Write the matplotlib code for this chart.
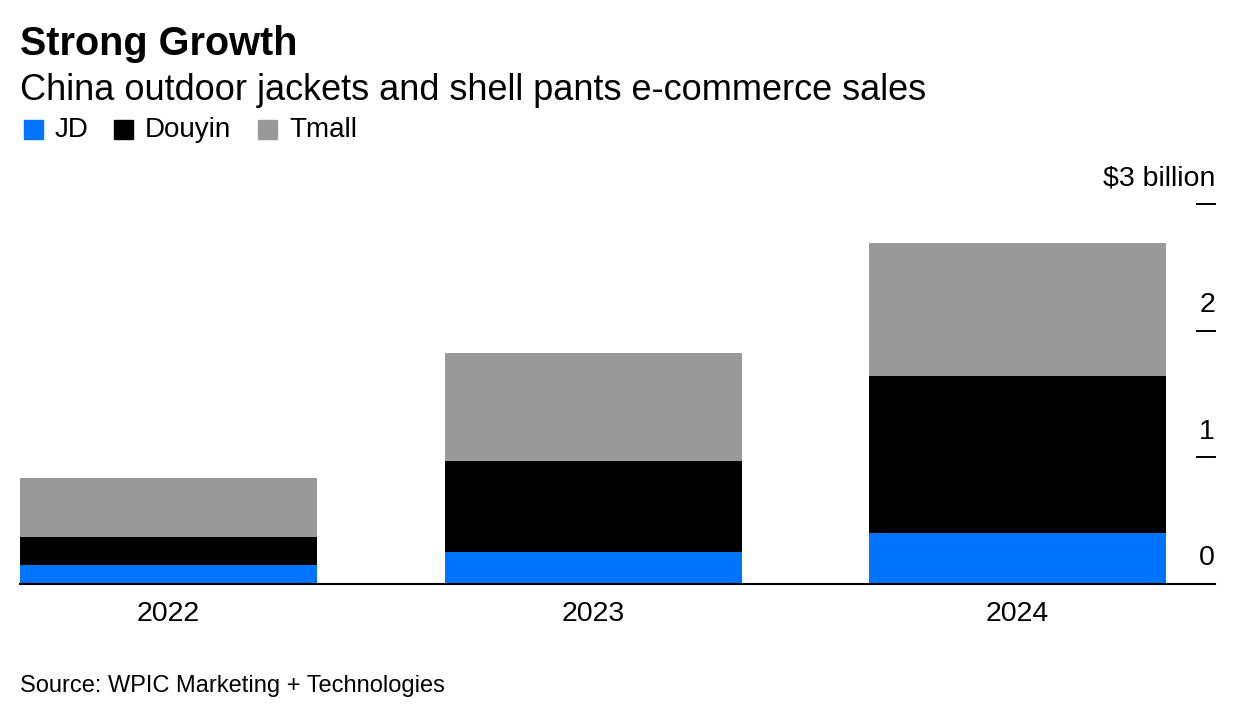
import matplotlib.pyplot as plt
from matplotlib.patches import Rectangle
import numpy as np

plt.rcParams['font.family'] = ['Liberation Sans', 'DejaVu Sans']

years = ['2022', '2023', '2024']
jd = [0.15, 0.25, 0.40]
douyin = [0.22, 0.72, 1.24]
tmall = [0.47, 0.85, 1.05]
series = ['JD', 'Douyin', 'Tmall']
colors = ['#0073FF', '#000000', '#999999']
yticks = [0, 1, 2, 3]
ytick_labels = ['0', '1', '2', '$3 billion']

W, H = 1236, 720
fig = plt.figure(figsize=(W / 100, H / 100), dpi=100)
ax = fig.add_axes([20 / W, 1 - 584 / H, 1195 / W, 380 / H])

x = np.arange(len(years))
width = 0.70
bottom = np.zeros(len(years))
for vals, col in zip([jd, douyin, tmall], colors):
    ax.bar(x, vals, width, bottom=bottom, color=col, linewidth=0)
    bottom += np.array(vals)

ax.set_xlim(-0.35, 2.465)
ax.set_ylim(0, 3)
for s in ['top', 'right', 'left']:
    ax.spines[s].set_visible(False)
ax.spines['bottom'].set_linewidth(1.5)
ax.set_yticks([])
ax.set_xticks(x)
ax.set_xticklabels(years, fontsize=20.5)
ax.tick_params(axis='x', length=0, pad=12)

# right-side ticks with labels above
trans = ax.get_yaxis_transform()
for v, lab in zip(yticks, ytick_labels):
    if v > 0:
        ax.plot([0.985, 1.0], [v, v], color='black', lw=1.4, transform=trans,
                clip_on=False)
    ax.text(1.0, v + 0.10, lab, transform=trans, ha='right', va='bottom',
            fontsize=20.5)

fig.text(20 / W, 1 - 44 / H, 'Strong Growth', fontsize=28.5, fontweight='bold',
         va='center', ha='left')
fig.text(20 / W, 1 - 91 / H, 'China outdoor jackets and shell pants e-commerce sales',
         fontsize=26, va='center', ha='left')

# legend
leg_x = [24, 114, 258]
for lx, name, col in zip(leg_x, series, colors):
    fig.patches.append(Rectangle((lx / W, 1 - 139 / H), 19 / W, 19 / H,
                                 transform=fig.transFigure, color=col))
    fig.text((lx + 31) / W, 1 - 130 / H, name, fontsize=20, va='center', ha='left')

fig.text(20 / W, 1 - 686 / H, 'Source: WPIC Marketing + Technologies',
         fontsize=17, va='center', ha='left')

fig.savefig('out.png', dpi=100)
